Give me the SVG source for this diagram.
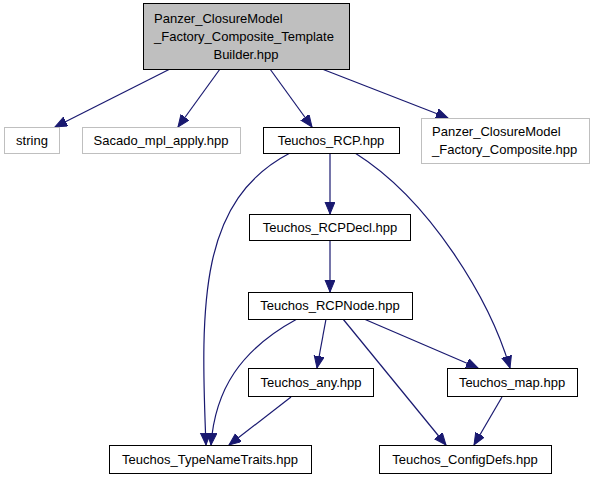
<svg xmlns="http://www.w3.org/2000/svg" width="595" height="480" viewBox="0 0 595 480">
<style>
text{font-family:"Liberation Sans",Arial,sans-serif;font-size:13px;fill:#000}
.c{text-anchor:middle}
.n rect{fill:#fff;stroke:#000;stroke-width:1}
.g rect{fill:#fff;stroke:#bfbfbf;stroke-width:1}
.e path{fill:none;stroke:#191970;stroke-width:1.2}
</style>
<defs>
<marker id="a" markerUnits="userSpaceOnUse" markerWidth="14" markerHeight="12" refX="12" refY="5" orient="auto">
<path d="M0,0 L12,5 L0,10 Z" fill="#191970" stroke="#191970" stroke-width="1"/>
</marker>
</defs>
<g class="e">
<path d="M170,69 L55,127" marker-end="url(#a)"/>
<path d="M220,69 L178,127" marker-end="url(#a)"/>
<path d="M270,69 L312,127" marker-end="url(#a)"/>
<path d="M322,69 L448,118" marker-end="url(#a)"/>
<path d="M330,153 L330,214" marker-end="url(#a)"/>
<path d="M290,153 C200,200 200,300 206,445" marker-end="url(#a)"/>
<path d="M355,153 C430,200 490,300 510,368" marker-end="url(#a)"/>
<path d="M330,240 L330,292" marker-end="url(#a)"/>
<path d="M297,319 C240,350 215,390 211,445" marker-end="url(#a)"/>
<path d="M326,319 L317,368" marker-end="url(#a)"/>
<path d="M343,319 L446,445" marker-end="url(#a)"/>
<path d="M364,319 L478,368" marker-end="url(#a)"/>
<path d="M291,397 L229,445" marker-end="url(#a)"/>
<path d="M502,397 L474,445" marker-end="url(#a)"/>
</g>
<g id="top"><rect x="143.5" y="3.5" width="206" height="66" fill="#bfbfbf" stroke="#000"/>
<text x="154" y="23">Panzer_ClosureModel</text>
<text x="154" y="41">_Factory_Composite_Template</text>
<text x="246" y="59" class="c">Builder.hpp</text></g>
<g id="string" class="g"><rect x="4.5" y="127.5" width="55" height="26"/><text x="32" y="145" class="c">string</text></g>
<g id="sacado" class="g"><rect x="82.5" y="127.5" width="158" height="26"/><text x="161" y="145" class="c">Sacado_mpl_apply.hpp</text></g>
<g id="rcp" class="n"><rect x="263.5" y="127.5" width="136" height="26"/><text x="331" y="145" class="c">Teuchos_RCP.hpp</text></g>
<g id="comp" class="g"><rect x="421.5" y="118.5" width="168" height="45"/><text x="432" y="136">Panzer_ClosureModel</text><text x="432" y="154">_Factory_Composite.hpp</text></g>
<g id="rcpdecl" class="n"><rect x="249.5" y="214.5" width="161" height="26"/><text x="330" y="232" class="c">Teuchos_RCPDecl.hpp</text></g>
<g id="rcpnode" class="n"><rect x="248.5" y="292.5" width="164" height="27"/><text x="330" y="310" class="c">Teuchos_RCPNode.hpp</text></g>
<g id="any" class="n"><rect x="248.5" y="368.5" width="125" height="28"/><text x="311" y="387" class="c">Teuchos_any.hpp</text></g>
<g id="map" class="n"><rect x="447.5" y="368.5" width="130" height="28"/><text x="512" y="387" class="c">Teuchos_map.hpp</text></g>
<g id="tnt" class="n"><rect x="109.5" y="445.5" width="202" height="28"/><text x="210" y="464" class="c">Teuchos_TypeNameTraits.hpp</text></g>
<g id="cfg" class="n"><rect x="379.5" y="445.5" width="172" height="28"/><text x="465" y="464" class="c">Teuchos_ConfigDefs.hpp</text></g>
</svg>
